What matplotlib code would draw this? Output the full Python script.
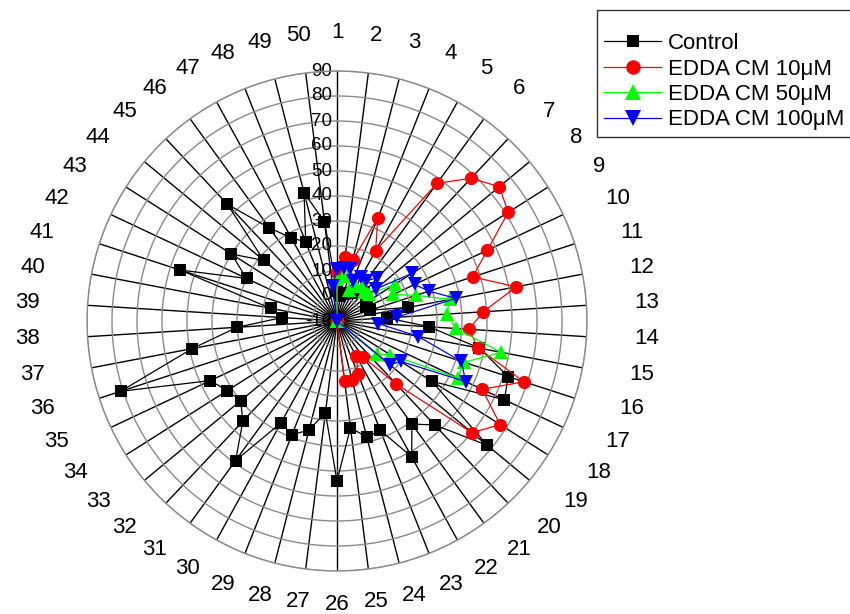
import numpy as np
import matplotlib
matplotlib.use("Agg")
import matplotlib.pyplot as plt

plt.rcParams['font.family'] = ['Liberation Sans', 'DejaVu Sans']

categories = [str(i) for i in range(1, 51)]
radial_ticks = [-10, 0, 10, 20, 30, 40, 50, 60, 70, 80, 90]

control = [2, 0, 1, 2, 3, 5, 6, 5, 4, 3,
           4, 19, 10, 27, 48, 62, 64, 35, 68, 47,
           41, 52, 37, 38, 33, 54, 27, 35, 39, 36.5,
           59, 45, 40, 42, 46, 81, 49, 30, 12, 17,
           56, 30, 40, 28, 54, 36, 28, 24, 43, 30]
edda10 = [9.7, 15.7, 15, 34.2, 22.1, 58.1, 68.3, 74.3, 71.1, 56.5,
          47, 63, 48.6, 42.9, 47.4, 68.6, 54.2, 67.3, 60.1, 24.7,
          8, 6, 12.9, 14.2, 14.3] + [-10] * 25
edda50 = [7, 8, 9, 3.4, 6, 8, 6, 6.7, 17.3, 14.9,
          23.3, 36, 34, 37.7, 56.8, 43.5, 43.4, 15.1, 10.7] + [-10] * 31
edda100 = [11, 11.5, 11.5, 7, 10, 10, 13.6, 10, 25.5, 24.3,
           28.7, 38.3, 13.9, 6.6, 23.1, 42.3, 46.9, 20.2, 17.4] + [-10] * 30 + [4]

series = [
    ("Control", control, 'black', 's', 8.5),
    ("EDDA CM 10\u03bcM", edda10, '#ff0000', 'o', 9.5),
    ("EDDA CM 50\u03bcM", edda50, '#00ff00', '^', 10),
    ("EDDA CM 100\u03bcM", edda100, '#0000ff', 'v', 10),
]

fig = plt.figure(figsize=(8.5, 6.14), dpi=100)
ax = fig.add_axes([87/850, 43/614, 500/850, 500/614], projection='polar')
ax.set_theta_zero_location('N')
ax.set_theta_direction(-1)

n = len(categories)
theta = np.deg2rad(np.arange(n) * 360.0 / n)
theta_closed = np.append(theta, theta[0])

handles = []
for label, vals, color, marker, ms in series:
    v = np.append(np.array(vals, dtype=float), vals[0])
    h, = ax.plot(theta_closed, v, color=color, lw=0.9, marker=marker,
                 markersize=ms, markeredgewidth=0, label=label, zorder=3)
    handles.append(h)

ax.set_ylim(-10, 90)
ax.set_yticks(radial_ticks)
ax.set_yticklabels([])
ax.set_xticks(theta)
ax.set_xticklabels([])
ax.tick_params(axis='both', length=0)
ax.xaxis.grid(True, color='black', lw=1.0)
ax.yaxis.grid(True, color='#8a8a8a', lw=1.0)
ax.spines['polar'].set_color('#8a8a8a')
ax.spines['polar'].set_linewidth(1.0)
ax.set_axisbelow(True)

# radial labels along top spoke
for r in radial_ticks:
    ax.annotate(str(r), xy=(0, r), xytext=(-5, 0), textcoords='offset pixels',
                ha='right', va='center', fontsize=13.5, zorder=2)

# category labels around
for t, lab in zip(theta, categories):
    c = np.cos(t)
    dy = 38 * c if c > 0 else 33 * c
    ax.annotate(lab, xy=(t, 90), xytext=(60*np.sin(t), dy),
                textcoords='offset pixels', ha='center', va='center',
                fontsize=16, annotation_clip=False)

leg = fig.legend(handles=handles, loc='upper left',
                 bbox_to_anchor=(597/850, 1 - 10/614), frameon=True,
                 fancybox=False, edgecolor='black', fontsize=16,
                 handlelength=2.6, handletextpad=0.3, labelspacing=0.2,
                 borderpad=0.3, borderaxespad=0, title=' ', title_fontsize=9,
                 markerscale=1.1)
leg.get_frame().set_linewidth(1.0)

fig.savefig('out.png', dpi=100)
